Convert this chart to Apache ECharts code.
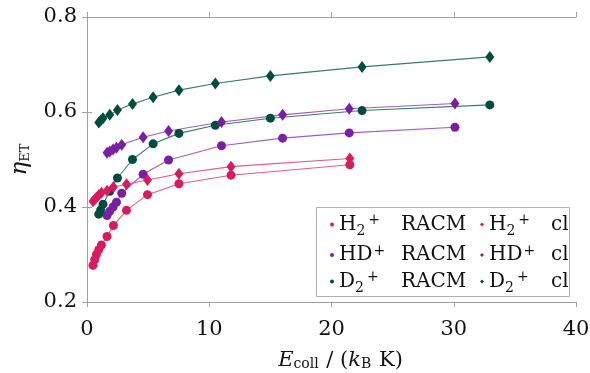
<!DOCTYPE html>
<html><head><meta charset="utf-8">
<script src="https://cdn.jsdelivr.net/npm/echarts@6/dist/echarts.min.js"></script>
<style>html,body{margin:0;padding:0;background:#fff}#c{width:590px;height:373px}</style>
</head><body><div id="c"></div>
<script>
// ---- data ----
const h2X = [0.49, 0.63, 0.77, 0.96, 1.18, 1.64, 2.16, 3.23, 4.95, 7.52, 11.78, 21.5];
const h2Racm = [0.277, 0.289, 0.300, 0.310, 0.320, 0.338, 0.361, 0.393, 0.426, 0.449, 0.467, 0.489];
const h2Cl = [0.412, 0.416, 0.420, 0.425, 0.430, 0.434, 0.442, 0.448, 0.457, 0.470, 0.485, 0.502];

const hdX = [1.64, 1.86, 2.13, 2.41, 2.84, 4.59, 6.67, 11.0, 16.0, 21.45, 30.1];
const hdRacm = [0.382, 0.391, 0.400, 0.410, 0.429, 0.469, 0.499, 0.529, 0.545, 0.556, 0.568];
const hdCl = [0.514, 0.517, 0.521, 0.525, 0.531, 0.547, 0.560, 0.579, 0.594, 0.607, 0.618];

const d2X = [0.96, 1.12, 1.31, 1.86, 2.49, 3.72, 5.41, 7.52, 10.5, 15.0, 22.5, 32.95];
const d2Racm = [0.385, 0.394, 0.406, 0.433, 0.461, 0.500, 0.533, 0.555, 0.572, 0.587, 0.603, 0.615];
const d2Cl = [0.578, 0.582, 0.587, 0.594, 0.604, 0.617, 0.631, 0.646, 0.660, 0.676, 0.695, 0.716];

const xTicks = [0, 10, 20, 30, 40];
const yTicks = [0.2, 0.4, 0.6, 0.8];

const seriesNames = ['H2 RACM', 'HD RACM', 'D2 RACM', 'H2 cl', 'HD cl', 'D2 cl'];
// species: [base letters, subscript, superscript], method suffix
const species = { H2: ['H', '2', '+'], HD: ['HD', '', '+'], D2: ['D', '2', '+'] };
const methods = { RACM: 'RACM', cl: 'cl' };

// ---- style ----
const FONT = 'DejaVu Serif';
const LEG_FS = 20, SUB_FS = 14;
const cPink = '#d81b60', cPurple = '#7b1fa2', cGreen = '#004d40';
const lPink = '#e35a86', lPurple = '#a45bbf', lGreen = '#3a7a6c';

const ctx = document.createElement('canvas').getContext('2d');
function tw(t, fs) { ctx.font = fs + 'px "' + FONT + '"'; return ctx.measureText(t).width; }
const SUFFIX_OFFSET = 62;

const rich = {
  b: { fontFamily: FONT, fontSize: LEG_FS, lineHeight: 28, color: '#111' },
  sub: { fontFamily: FONT, fontSize: SUB_FS, verticalAlign: 'bottom', lineHeight: 8, padding: [0, 2, 0, 0], color: '#111' },
  sup: { fontFamily: FONT, fontSize: SUB_FS, verticalAlign: 'top', lineHeight: 8, padding: [3, 0, 0, 1], color: '#111' }
};
const legendLabels = {};
seriesNames.forEach(n => {
  const [sp, m] = n.split(' ');
  const s = species[sp];
  let w = tw(s[0], LEG_FS) + (s[1] ? tw(s[1], SUB_FS) + 2 : 0) + tw(s[2], SUB_FS) + 1;
  const key = 'gap' + sp;
  rich[key] = { fontFamily: FONT, fontSize: LEG_FS, lineHeight: 28, width: Math.max(2, SUFFIX_OFFSET - w) };
  legendLabels[n] = '{b|' + s[0] + '}' + (s[1] ? '{sub|' + s[1] + '}' : '') + '{sup|' + s[2] + '}{' + key + '| }{b|' + methods[m] + '}';
});

function zip(xs, ys) { return xs.map((x, i) => [x, ys[i]]); }
function mk(name, xs, ys, color, lcolor, symbol, size) {
  return {
    name, type: 'line', data: zip(xs, ys), symbol, symbolSize: size,
    itemStyle: { color }, lineStyle: { color: lcolor, width: 1.1 },
    showSymbol: true, animation: false, z: 3
  };
}

const chart = echarts.init(document.getElementById('c'), null, { renderer: 'canvas' });
const axisCommon = {
  axisLine: { show: true, lineStyle: { color: '#a0a0a0', width: 1 } },
  axisTick: { show: true, inside: false, length: 5, lineStyle: { color: '#a0a0a0' } },
  splitLine: { show: false }
};
const legendCommon = {
  orient: 'vertical', itemWidth: 4, itemHeight: 4, itemGap: 2.5, padding: 0, z: 20,
  itemStyle: { borderWidth: 0 }, lineStyle: { width: 0 },
  formatter: n => legendLabels[n],
  textStyle: { fontFamily: FONT, fontSize: LEG_FS, color: '#111', rich: rich }
};
chart.setOption({
  animation: false,
  grid: { left: 87, right: 14, top: 17, bottom: 71, containLabel: false, outerBoundsMode: 'none' },
  xAxis: [
    Object.assign({
      type: 'value', min: xTicks[0], max: xTicks[xTicks.length - 1], interval: 10,
      axisLabel: { fontFamily: FONT, fontSize: 21, color: '#111', margin: 17 },
      name: '{i|E}{s|coll}{n| / (}{i|k}{s|B}{n| K)}', nameLocation: 'middle', nameGap: 46,
      nameTextStyle: { fontFamily: FONT, fontSize: 21, color: '#111', padding: [0, 0, 0, 18],
        rich: {
          i: { fontFamily: FONT, fontSize: 21, fontStyle: 'italic', lineHeight: 26, color: '#111' },
          n: { fontFamily: FONT, fontSize: 21, lineHeight: 26, color: '#111' },
          s: { fontFamily: FONT, fontSize: 14, lineHeight: 8, verticalAlign: 'bottom', padding: [0, 1, 2.5, 0], color: '#111' }
        } }
    }, axisCommon),
    Object.assign({
      type: 'value', position: 'top', min: 0, max: 40, interval: 10,
      axisLabel: { show: false }
    }, axisCommon)
  ],
  yAxis: [
    Object.assign({
      type: 'value', min: yTicks[0], max: yTicks[yTicks.length - 1], interval: 0.2,
      axisLabel: { fontFamily: FONT, fontSize: 21, color: '#111', margin: 10, formatter: v => v.toFixed(1) },
      name: '{g|η}{e|ET}', nameLocation: 'middle', nameGap: 51, nameRotate: 90,
      nameTextStyle: { fontFamily: FONT, fontSize: 21, color: '#111',
        rich: { g: { fontFamily: FONT, fontSize: 23, fontStyle: 'italic', lineHeight: 26, color: '#111' },
                e: { fontFamily: FONT, fontSize: 13, lineHeight: 8, verticalAlign: 'bottom', padding: [0, 0, 1, 0], color: '#111' } } }
    }, axisCommon),
    Object.assign({
      type: 'value', position: 'right', min: 0.2, max: 0.8, interval: 0.2,
      axisLabel: { show: false }
    }, axisCommon)
  ],
  legend: [
    Object.assign({ data: seriesNames.slice(0, 3), left: 330, top: 210.5, icon: 'circle' }, legendCommon),
    Object.assign({ data: seriesNames.slice(3), left: 480, top: 210.5, icon: 'diamond' }, legendCommon)
  ],
  graphic: [{
    type: 'rect', shape: { x: 316.5, y: 207.5, width: 253, height: 89 },
    style: { fill: '#fff', stroke: '#b0b0b0', lineWidth: 1 }, z: 1, silent: true
  }],
  series: [
    mk('H2 RACM', h2X, h2Racm, cPink, lPink, 'circle', 9),
    mk('HD RACM', hdX, hdRacm, cPurple, lPurple, 'circle', 9),
    mk('D2 RACM', d2X, d2Racm, cGreen, lGreen, 'circle', 9),
    mk('H2 cl', h2X, h2Cl, cPink, lPink, 'diamond', [9, 12]),
    mk('HD cl', hdX, hdCl, cPurple, lPurple, 'diamond', [9, 12]),
    mk('D2 cl', d2X, d2Cl, cGreen, lGreen, 'diamond', [9, 12])
  ]
});
</script></body></html>
